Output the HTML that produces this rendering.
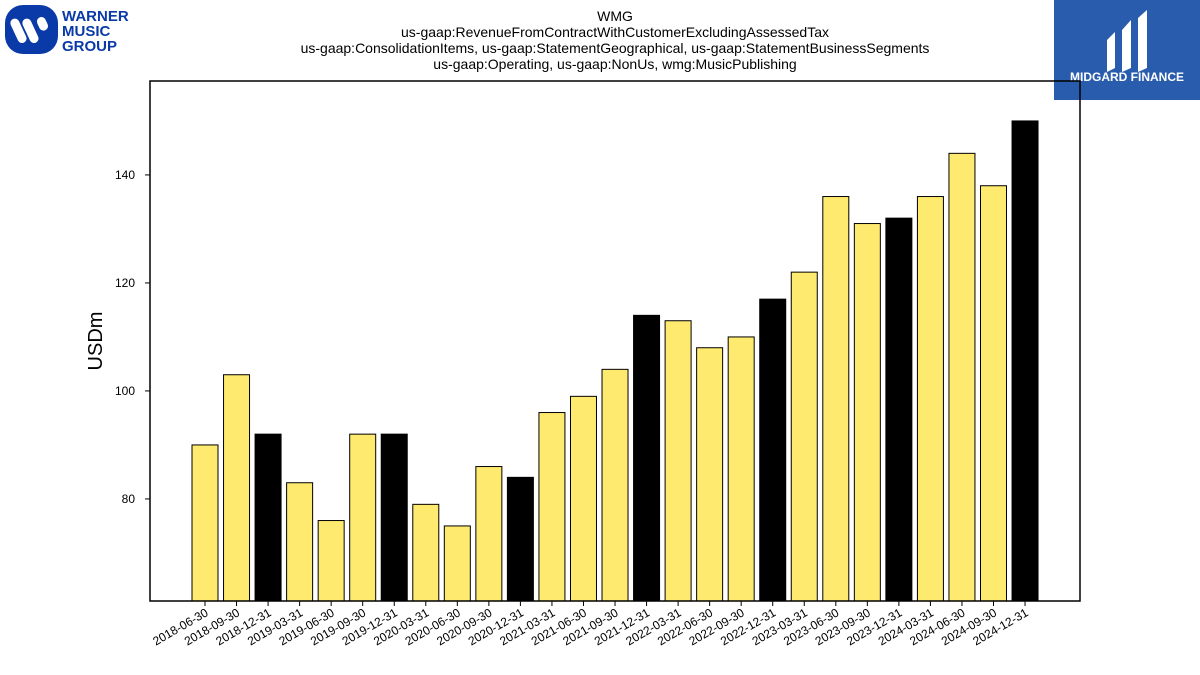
<!DOCTYPE html>
<html><head><meta charset="utf-8"><style>
body{margin:0;width:1200px;height:675px;background:#fff;overflow:hidden;font-family:"Liberation Sans","DejaVu Sans",sans-serif;}
svg{position:absolute;left:0;top:0}
</style></head><body>
<svg id="c" width="1200" height="675">
<g>
<rect x="5" y="5" width="53" height="49" rx="18" fill="#0a3aa8"/>
<g fill="#fff"><rect x="14" y="18" width="9" height="26" rx="4.5" transform="rotate(-25 18 31)"/><rect x="26" y="18" width="9" height="26" rx="4.5" transform="rotate(-25 30 31)"/><rect x="38" y="17" width="9" height="14" rx="4.5" transform="rotate(-25 42 24)"/></g>
<text x="62" y="21" font-size="15" font-weight="bold" fill="#0a3aa8">WARNER</text>
<text x="62" y="36" font-size="15" font-weight="bold" fill="#0a3aa8">MUSIC</text>
<text x="62" y="51" font-size="15" font-weight="bold" fill="#0a3aa8">GROUP</text>
</g>
<g>
<rect x="1054" y="0" width="146" height="100" fill="#2a5cad"/>
<path d="M1107 40 L1115 32 L1115 68 L1107 72 Z M1122 30 L1131 20 L1131 68 L1122 72 Z M1138 18 L1147 10 L1147 68 L1138 72 Z" fill="#fff"/>
<text x="1127" y="81" font-size="12" font-weight="bold" fill="#fff" text-anchor="middle">MIDGARD FINANCE</text>
</g>
<g font-size="14" text-anchor="middle" fill="#000">
<text x="615" y="21">WMG</text>
<text x="615" y="37">us-gaap:RevenueFromContractWithCustomerExcludingAssessedTax</text>
<text x="615" y="53">us-gaap:ConsolidationItems, us-gaap:StatementGeographical, us-gaap:StatementBusinessSegments</text>
<text x="615" y="69">us-gaap:Operating, us-gaap:NonUs, wmg:MusicPublishing</text>
</g>
<text x="102" y="341" font-size="20" text-anchor="middle" transform="rotate(-90 102 341)">USDm</text>
<g id="bars"></g><g id="axes"></g>
<rect x="150" y="81" width="930" height="520" fill="none" stroke="#000" stroke-width="1.5"/>
</svg>
<script>
const categories=["2018-06-30","2018-09-30","2018-12-31","2019-03-31","2019-06-30","2019-09-30","2019-12-31","2020-03-31","2020-06-30","2020-09-30","2020-12-31","2021-03-31","2021-06-30","2021-09-30","2021-12-31","2022-03-31","2022-06-30","2022-09-30","2022-12-31","2023-03-31","2023-06-30","2023-09-30","2023-12-31","2024-03-31","2024-06-30","2024-09-30","2024-12-31"];
const values=[90,103,92,83,76,92,92,79,75,86,84,96,99,104,114,113,108,110,117,122,136,131,132,136,144,138,150];
const yTicks=[80,100,120,140];
const NS="http://www.w3.org/2000/svg";
const x0=205,step=31.54,bw=26,yMin=61.1,ppu=5.4,base=601;
const xs=i=>x0+i*step, ys=v=>base-(v-yMin)*ppu;
const bars=document.getElementById('bars'),axes=document.getElementById('axes');
function mk(t,a,p){const e=document.createElementNS(NS,t);for(const k in a)e.setAttribute(k,a[k]);p.appendChild(e);return e;}
categories.forEach((c,i)=>{
 const v=values[i];
 const r=mk('rect',{x:xs(i)-bw/2,y:ys(v),width:bw,height:base-ys(v),fill:c.endsWith('12-31')?'#000':'#ffea70',stroke:'#000','stroke-width':1},bars);
 
 
 const tk=mk('line',{x1:xs(i),x2:xs(i),y1:base,y2:base+5,stroke:'#000'},axes);
 
 
 const t=mk('text',{x:xs(i)+4,y:base+14,'font-size':12,'text-anchor':'end',transform:`rotate(-30 ${xs(i)+4} ${base+14})`},axes);
 t.textContent=c;
 
 
});
yTicks.forEach(v=>{
 const tk=mk('line',{x1:145,x2:150,y1:ys(v),y2:ys(v),stroke:'#000'},axes);
 
 
 const t=mk('text',{x:135,y:ys(v)+4,'font-size':12,'text-anchor':'end'},axes);
 t.textContent=v;
 
 
});
</script>
</body></html>
